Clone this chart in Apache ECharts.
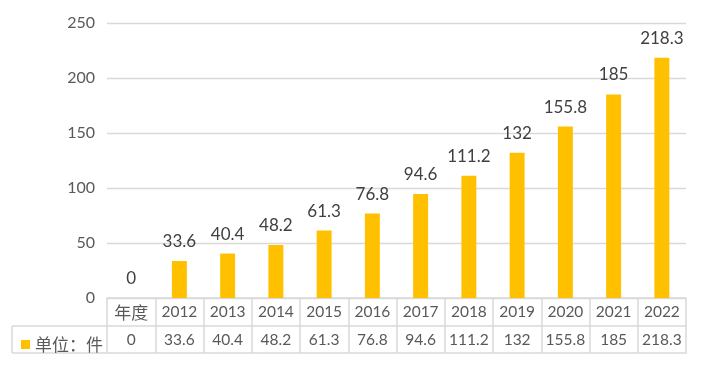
<!DOCTYPE html>
<html><head><meta charset="utf-8">
<script src="https://cdn.jsdelivr.net/npm/echarts@6/dist/echarts.min.js"></script>
<style>html,body{margin:0;padding:0;background:#fff}#c{width:702px;height:366px}</style>
</head><body><div id="c"></div>
<script>
const categories = ['年度','2012','2013','2014','2015','2016','2017','2018','2019','2020','2021','2022'];
const values = [0,33.6,40.4,48.2,61.3,76.8,94.6,111.2,132,155.8,185,218.3];
const seriesName = '单位：件';
const yTicks = [0,50,100,150,200,250];

const FONT = 'Lato, "Noto Sans CJK SC", sans-serif';
const CJK = '"Noto Sans CJK SC", sans-serif';
const GRAY = '#D9D9D9';
const TXT = '#595959';
const BAR = '#FFC000';

const chart = echarts.init(document.getElementById('c'), null, {renderer: 'canvas'});
const isNum = s => /^[0-9.]+$/.test(String(s));
const catFmt = v => isNum(v) ? v : '{cjk|' + v + '}';
const rich = {cjk: {fontFamily: CJK, fontSize: 17, color: TXT}};

chart.setOption({
  animation: false,
  backgroundColor: '#fff',
  textStyle: {fontFamily: FONT},
  grid: {left: 107, right: 16, top: 23, bottom: 68, containLabel: false},
  legend: {
    data: [seriesName], left: 16, top: 331, icon: 'rect', itemWidth: 9, itemHeight: 9,
    textStyle: {fontFamily: CJK, fontSize: 17, color: TXT}
  },
  yAxis: {
    type: 'value', min: yTicks[0], max: yTicks[yTicks.length-1], interval: yTicks[1]-yTicks[0],
    axisLine: {show: false}, axisTick: {show: false},
    splitLine: {lineStyle: {color: GRAY, width: 1.3}},
    axisLabel: {fontSize: 16, color: TXT, margin: 12, fontFamily: FONT}
  },
  xAxis: [
    {
      type: 'category', data: categories, position: 'bottom',
      axisLine: {show: true, lineStyle: {color: GRAY, width: 1.5}},
      axisTick: {show: true, interval: 0, length: 55, lineStyle: {color: GRAY, width: 1.5}},
      axisLabel: {interval: 0, fontSize: 15.5, color: TXT, margin: 6, fontFamily: FONT, formatter: catFmt, rich: rich}
    },
    {
      type: 'category', data: values.map(String), position: 'bottom', offset: 28,
      axisLine: {show: true, lineStyle: {color: GRAY, width: 1.5}},
      axisTick: {show: false},
      axisLabel: {interval: 0, fontSize: 15.5, color: TXT, margin: 6, fontFamily: FONT}
    },
    {
      type: 'category', data: categories, position: 'bottom', offset: 55,
      axisLine: {show: true, lineStyle: {color: GRAY, width: 1.5}},
      axisTick: {show: false}, axisLabel: {show: false}
    }
  ],
  series: [{
    name: seriesName, type: 'bar', data: values, xAxisIndex: 0, yAxisIndex: 0,
    barWidth: '31%', itemStyle: {color: BAR},
    label: {show: true, position: 'top', distance: 11, fontSize: 17, color: '#404040', fontFamily: FONT}
  }]
});

// legend cell borders left of the table
chart.setOption({
  graphic: [
    {type: 'line', shape: {x1: 12, y1: 326, x2: 107, y2: 326}, style: {stroke: GRAY, lineWidth: 1.5}, silent: true},
    {type: 'line', shape: {x1: 12, y1: 353, x2: 107, y2: 353}, style: {stroke: GRAY, lineWidth: 1.5}, silent: true},
    {type: 'line', shape: {x1: 12, y1: 326, x2: 12, y2: 353}, style: {stroke: GRAY, lineWidth: 1.5}, silent: true}
  ]
});
</script>
</body></html>
